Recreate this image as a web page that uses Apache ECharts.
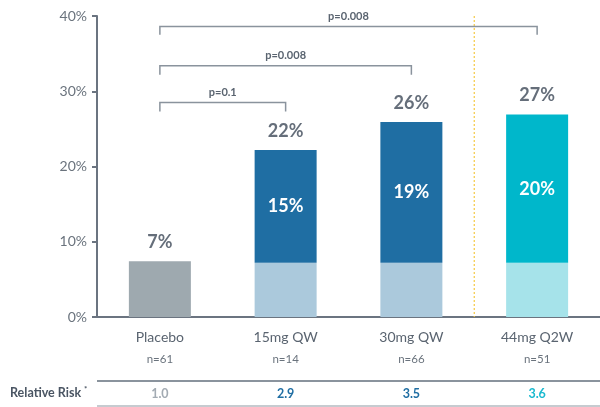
<!DOCTYPE html>
<html><head><meta charset="utf-8">
<script src="https://cdn.jsdelivr.net/npm/echarts@6/dist/echarts.min.js"></script>
<style>html,body{margin:0;padding:0;background:#fff}#c{width:600px;height:407px}</style>
</head><body><div id="c"></div>
<script>
const categories = ['Placebo', '15mg QW', '30mg QW', '44mg Q2W'];
const nLabels = ['n=61', 'n=14', 'n=66', 'n=51'];
const baseValues = [7.4, 7.2, 7.2, 7.2];
const incrementValues = [0, 15, 18.7, 19.7];
const totalLabels = ['7%', '22%', '26%', '27%'];
const incrementLabels = ['', '15%', '19%', '20%'];
const relativeRisk = ['1.0', '2.9', '3.5', '3.6'];
const yTicks = [0, 10, 20, 30, 40];
// [fromIndex, toIndex, lineValue, tickEndValue, label]
const comparisons = [
  [0, 1, 28.5, 27.3, 'p=0.1'],
  [0, 2, 33.4, 32.2, 'p=0.008'],
  [0, 3, 38.6, 37.5, 'p=0.008']
];

const font = 'Lato, "Open Sans", sans-serif';
const baseColors = ['#9ea9af', '#abc9dc', '#abc9dc', '#a6e3ea'];
const topColors = ['#9ea9af', '#1f6ea3', '#1f6ea3', '#00b7cb'];
const rrColors = ['#a3abb3', '#1f6ea3', '#1f6ea3', '#1ab9cf'];

const chart = echarts.init(document.getElementById('c'));
const rich = {
  c: {fontFamily: font, fontSize: 14, color: '#5a6470', lineHeight: 22},
  n: {fontFamily: font, fontSize: 11.5, color: '#6a737d', lineHeight: 23}
};
rrColors.forEach((col, i) => {
  rich['r' + i] = {fontFamily: font, fontSize: 12.5, fontWeight: 'bold', color: col, lineHeight: 46};
});

chart.setOption({
  animation: false,
  grid: {left: 97, right: 0, top: 16, bottom: 90},
  xAxis: {
    type: 'category', data: categories,
    axisLine: {lineStyle: {color: '#6b7480', width: 2}},
    axisTick: {show: false},
    axisLabel: {
      margin: 9, interval: 0,
      formatter: (v, i) => '{c|' + v + '}\n{n|' + nLabels[i] + '}\n{r' + i + '|' + relativeRisk[i] + '}',
      rich: rich
    }
  },
  yAxis: {
    type: 'value', min: 0, max: 40, interval: 10,
    axisLine: {show: true, lineStyle: {color: '#6b7480', width: 2}},
    axisTick: {show: true, length: 5, lineStyle: {color: '#6b7480', width: 2}},
    splitLine: {show: false},
    axisLabel: {formatter: v => yTicks.includes(v) ? v + '%' : '', fontFamily: font, fontSize: 14, color: '#6a737d', margin: 10}
  },
  series: [
    {
      type: 'bar', stack: 's', barWidth: 62,
      data: baseValues.map((v, i) => ({value: v, itemStyle: {color: baseColors[i]}})),
      silent: true
    },
    {
      type: 'bar', stack: 's', barWidth: 62,
      data: incrementValues.map((v, i) => ({value: v, itemStyle: {color: topColors[i]}})),
      label: {
        show: true, position: 'inside',
        formatter: p => incrementLabels[p.dataIndex],
        fontFamily: font, fontSize: 18, fontWeight: 'bold', color: '#fff'
      }
    },
    {
      type: 'scatter', symbolSize: 0,
      data: baseValues.map((v, i) => v + incrementValues[i]),
      label: {
        show: true, position: 'top', distance: 10,
        formatter: p => totalLabels[p.dataIndex],
        fontFamily: font, fontSize: 18, fontWeight: 'bold', color: '#3f4a59'
      }
    },
    {
      type: 'custom',
      data: comparisons,
      renderItem: (params, api) => {
        const a = api.coord([api.value(0), api.value(2)]);
        const b = api.coord([api.value(1), api.value(2)]);
        const aEnd = api.coord([api.value(0), api.value(3)]);
        const bEnd = api.coord([api.value(1), api.value(3)]);
        const c = {stroke: '#8a939d', lineWidth: 1.5, fill: null};
        const lbl = comparisons[params.dataIndex][4];
        return {
          type: 'group', children: [
            {type: 'polyline', shape: {points: [aEnd, a, b, bEnd]}, style: c},
            {type: 'text', style: {text: lbl, x: (a[0] + b[0]) / 2, y: a[1] - 10, align: 'center', verticalAlign: 'middle',
              font: 'bold 11px ' + font, fill: '#5a6470'}}
          ]
        };
      },
      z: 5
    },
    {
      type: 'custom',
      data: [[2, 3]],
      renderItem: (params, api) => {
        const p1 = api.coord([api.value(0), 40]);
        const p2 = api.coord([api.value(1), 0]);
        const x = (p1[0] + p2[0]) / 2;
        return {type: 'line', shape: {x1: x, y1: p1[1], x2: x, y2: p2[1]},
          style: {stroke: '#f5c842', lineWidth: 1.2, lineDash: [2, 2]}};
      }
    }
  ],
  graphic: [
    {type: 'line', shape: {x1: 97, y1: 381, x2: 600, y2: 381}, style: {stroke: '#8a939d', lineWidth: 2}},
    {type: 'line', shape: {x1: 97, y1: 406, x2: 600, y2: 406}, style: {stroke: '#b3bac1', lineWidth: 1.5}},
    {type: 'text', left: 10, top: 386, style: {text: 'Relative Risk', font: 'bold 12.5px ' + font, fill: '#4a5563'}},
    {type: 'text', left: 84, top: 385, style: {text: '*', font: 'bold 8px ' + font, fill: '#4a5563'}}
  ]
});
</script></body></html>
